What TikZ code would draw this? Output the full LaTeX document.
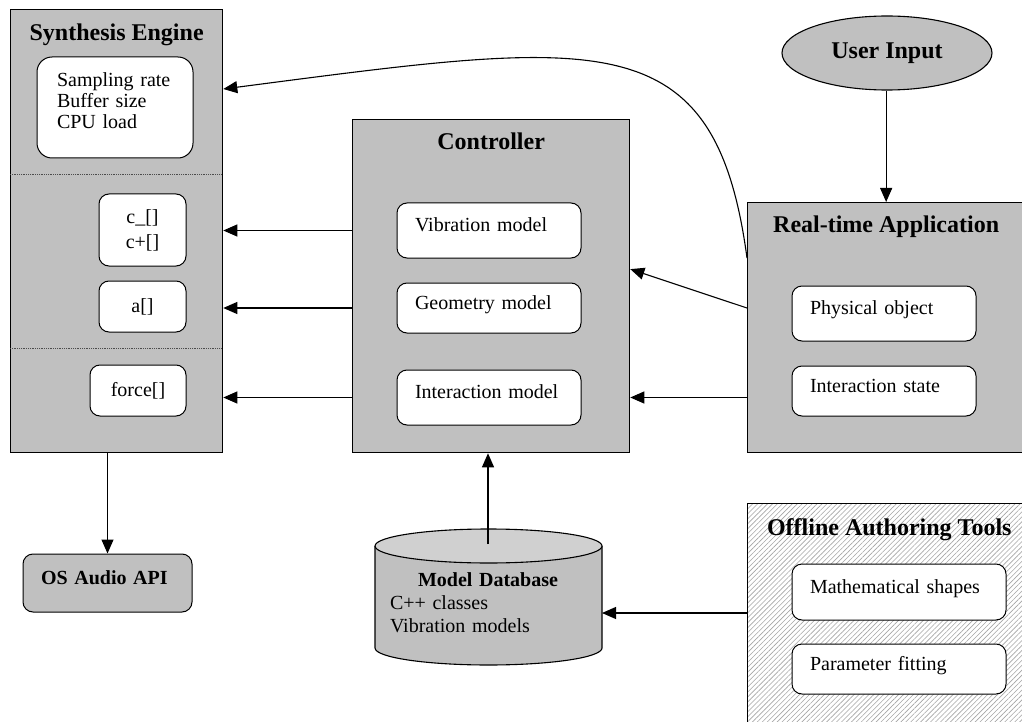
\documentclass[tikz,border=0pt]{standalone}
\usepackage{fontspec}
\setmainfont{Liberation Serif}
\usetikzlibrary{positioning,arrows.meta,shapes.geometric,patterns.meta}
\definecolor{silver}{RGB}{192,192,192}
\definecolor{silverlt}{RGB}{208,208,208}
\definecolor{hatchclr}{RGB}{165,165,165}

\begin{document}
\begin{tikzpicture}[
    x=1pt, y=-1pt, node distance=24pt,
    font=\fontsize{20}{21}\selectfont,
    panel/.style={draw, line width=1.3pt, fill=silver, anchor=north west, inner sep=0pt},
    item/.style={draw, line width=1pt, fill=white, rounded corners=10pt,
                 inner xsep=18pt, inner ysep=0pt, align=left},
    oneline/.style={text height=14pt, text depth=12pt},
    tag/.style={font=\bfseries\fontsize{24}{28}\selectfont, anchor=base},
    boldtxt/.style={font=\bfseries\fontsize{20}{21}\selectfont},
    sep/.style={densely dotted, line width=0.8pt, black!70},
    arr/.style={-{Triangle[length=14pt,width=12pt]}, line width=1.1pt},
  ]
\useasboundingbox (0,0) rectangle (1022,722);
\fill[white] (0,0) rectangle (1022,722);

% synthesis engine
\node[panel, minimum width=212pt, minimum height=443pt] (syn) at (10,9) {};
\node[tag] (synt) at ([yshift=-32pt]syn.north) {Synthesis Engine};
\node[item, rounded corners=15pt, text width=116pt, inner xsep=20pt,
      minimum height=101pt, text depth=56pt] (sparam) at (115,107.5)
      {Sampling rate\\Buffer size\\CPU load};
\draw[sep] (10,174) -- (222,174);
\node[item, align=center, text width=51pt, minimum height=72pt] (cbox) at (142.5,230) {c\_[]\\[4pt]c+[]};
\node[item, align=center, text width=51pt, minimum height=51pt, below=14pt of cbox] (abox) {a[]};
\draw[sep] (10,348) -- (222,348);
\node[item, align=center, text width=60pt, minimum height=51pt] (fbox) at (138,390.5) {force[]};

% controller
\node[panel, minimum width=277pt, minimum height=333pt] (ctrl) at (352,119) {};
\node[tag] (ctrlt) at ([yshift=-31pt]ctrl.north) {Controller};
\node[item, oneline, text width=148pt, minimum height=55pt] (vib) at (489,230.5) {Vibration model};
\node[item, oneline, text width=148pt, minimum height=50pt, below=of vib] (geo) {Geometry model};
\node[item, oneline, text width=148pt, minimum height=55pt, below=36pt of geo] (inter) {Interaction model};

% real-time application
\node[panel, minimum width=277pt, minimum height=250pt] (rt) at (747,202) {};
\node[tag] (rtt) at ([yshift=-31pt]rt.north) {Real-time Application};
\node[item, oneline, text width=148pt, minimum height=55pt] (phys) at (884,313.5) {Physical object};
\node[item, oneline, text width=148pt, minimum height=50pt, below=of phys] (istate) {Interaction state};

\node[draw, ellipse, line width=1.1pt, fill=silver, minimum width=210pt, minimum height=74pt,
      inner sep=0pt, font=\bfseries\fontsize{24}{28}\selectfont] (user) at (887,53) {User Input};

% audio output
\node[item, oneline, boldtxt, fill=silver, text width=133pt, minimum height=58pt] (os) at (107.5,583) {OS Audio API};

% model database
\draw[line width=1.1pt, fill=silver] (375,546) -- (375,648)
  arc[start angle=180, end angle=360, x radius=113.5pt, y radius=17pt] -- (602,546);
\draw[line width=1.1pt, fill=silverlt] (488.5,546) ellipse [x radius=113.5pt, y radius=17pt];
\node[align=left, text width=196pt, inner sep=0pt, font=\fontsize{20}{23}\selectfont] (db) at (488,603)
  {\makebox[196pt]{\textbf{Model Database}}\\C++ classes\\Vibration models};
\coordinate (dbtop) at (488,544);
\coordinate (dbside) at (602,613);

% offline tools
\node[panel, pattern={Lines[angle=45,distance=3.5pt,line width=0.6pt]}, pattern color=hatchclr,
      minimum width=284pt, minimum height=240pt] (off) at (747,503) {};
\node[tag] (offt) at ([yshift=-32pt]off.north) {Offline Authoring Tools};
\node[item, oneline, text width=178pt, minimum height=56pt] (mshape) at (899,592) {Mathematical shapes};
\node[item, oneline, text width=178pt, minimum height=50pt, below=23pt of mshape] (pfit) {Parameter fitting};

% connectors
\draw[arr] ([yshift=-56pt]rt.north west) .. controls (715,20) and (600,40) .. ([yshift=-80pt]syn.north east);
\draw[arr] (ctrl.west |- vib) -- (syn.east |- vib);
\draw[arr] (ctrl.west |- geo) -- (syn.east |- geo);
\draw[arr] (ctrl.west |- inter) -- (syn.east |- inter);
\draw[arr] (rt.west |- geo) -- ([yshift=17pt]ctrl.east);
\draw[arr] (rt.west |- inter) -- (ctrl.east |- inter);
\draw[arr] (user.south -| rt.north) -- (rt.north);
\draw[arr] (syn.south -| os.north) -- (os.north);
\draw[arr] (dbtop) -- (ctrl.south -| dbtop);
\draw[arr] (off.west |- dbside) -- (dbside);
\end{tikzpicture}
\end{document}
